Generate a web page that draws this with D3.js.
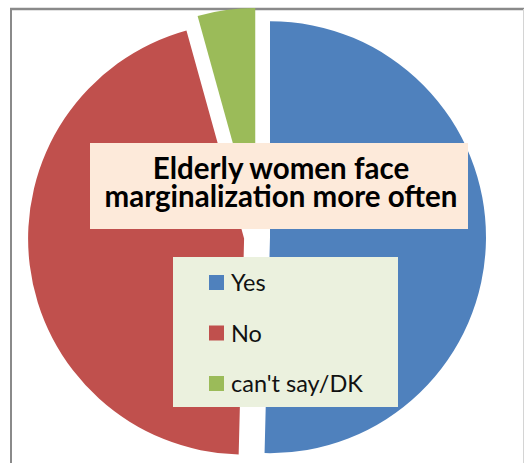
<!DOCTYPE html>
<html>
<head>
<meta charset="utf-8">
<script src="https://cdn.jsdelivr.net/npm/d3@7"></script>
<style>
  body { margin: 0; background: #fff; }
  svg { display: block; }
</style>
</head>
<body>
<div id="chart"></div>
<script>
// data
const categories = ["Yes", "No", "can't say/DK"];
const values = [50.4, 45.3, 4.3];
const colors = ["#4F81BD", "#C0504D", "#9BBB59"];
const titleLines = ["Elderly women face", "marginalization more often"];

const width = 524, height = 463;
const cx = 257, cy = 237, radius = 216, explode = 13;
const fontFamily = "Lato, 'Open Sans', sans-serif";

const svg = d3.select("#chart").append("svg")
  .attr("width", width)
  .attr("height", height);

// chart area frame (bottom is off-screen)
svg.append("line").attr("x1", 10).attr("x2", width).attr("y1", 9).attr("y2", 9)
  .attr("stroke", "#8a8a8a").attr("stroke-width", 2.4);
svg.append("line").attr("x1", 11).attr("x2", 11).attr("y1", 8).attr("y2", height)
  .attr("stroke", "#8a8a8a").attr("stroke-width", 2);
svg.append("line").attr("x1", 523.5).attr("x2", 523.5).attr("y1", 9).attr("y2", height)
  .attr("stroke", "#d4d4d4").attr("stroke-width", 1);

const data = categories.map((c, i) => ({ name: c, value: values[i], color: colors[i] }));

const pie = d3.pie().sort(null).value(d => d.value);
const arc = d3.arc().innerRadius(0).outerRadius(radius);

const g = svg.append("g").attr("transform", `translate(${cx},${cy})`);

g.selectAll(".slice")
  .data(pie(data))
  .join("path")
  .attr("class", "slice")
  .attr("d", arc)
  .attr("fill", d => d.data.color)
  .attr("transform", d => {
    const a = (d.startAngle + d.endAngle) / 2;
    return `translate(${Math.sin(a) * explode},${-Math.cos(a) * explode})`;
  });

// fit a font size so the given text gets the target width
function fitSize(text, weight, targetWidth) {
  const probe = svg.append("text")
    .attr("font-family", fontFamily)
    .attr("font-weight", weight)
    .attr("font-size", 20)
    .text(text);
  const w = probe.node().getComputedTextLength();
  probe.remove();
  return 20 * targetWidth / w;
}

// title box
svg.append("rect")
  .attr("x", 90).attr("y", 143)
  .attr("width", 378).attr("height", 86)
  .attr("fill", "#FDEADA");

const titleSize = fitSize(titleLines[1], "bold", 353);
svg.selectAll(".title-line")
  .data(titleLines)
  .join("text")
  .attr("class", "title-line")
  .attr("x", 281)
  .attr("y", (d, i) => 179 + i * 28)
  .attr("text-anchor", "middle")
  .attr("font-family", fontFamily)
  .attr("font-weight", "bold")
  .attr("font-size", titleSize)
  .attr("fill", "#000")
  .text(d => d);

// legend
svg.append("rect")
  .attr("x", 173).attr("y", 257)
  .attr("width", 225).attr("height", 150)
  .attr("fill", "#EBF1DE");

const legendY = d3.scalePoint()
  .domain(categories)
  .range([275, 376]);

const legendSize = fitSize("can't say/DK", "normal", 132);

const items = svg.selectAll(".legend-item")
  .data(data)
  .join("g")
  .attr("class", "legend-item")
  .attr("transform", d => `translate(209,${legendY(d.name)})`);

items.append("rect")
  .attr("width", 15).attr("height", 15)
  .attr("fill", d => d.color);

items.append("text")
  .attr("x", 22)
  .attr("y", 16)
  .attr("font-family", fontFamily)
  .attr("font-size", legendSize)
  .attr("fill", "#111")
  .text(d => d.name);
</script>
</body>
</html>
